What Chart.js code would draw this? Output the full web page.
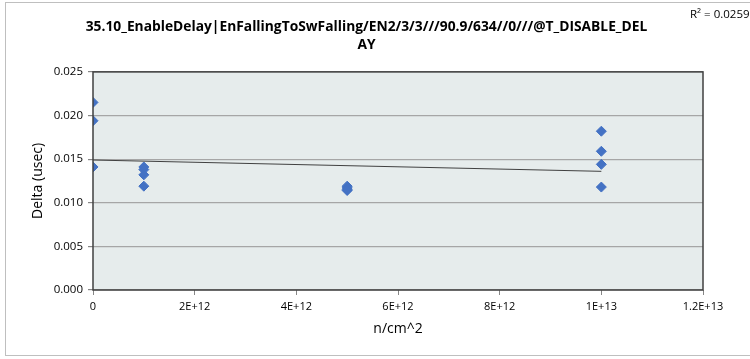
<!DOCTYPE html>
<html>
<head>
<meta charset="utf-8">
<script src="https://cdn.jsdelivr.net/npm/chart.js@4.4.1/dist/chart.umd.min.js"></script>
<style>
    body { margin: 0; background: #ffffff; }
    #wrap { position: relative; width: 750px; height: 359px; }
</style>
</head>
<body>
<div id="wrap"><canvas id="deltaChart" width="750" height="359"></canvas></div>
<script>
// Datos
const fluence = [0, 0, 0, 1e12, 1e12, 1e12, 1e12, 5e12, 5e12, 5e12, 5e12, 1e13, 1e13, 1e13, 1e13];
const delta = [0.0215, 0.0194, 0.0141, 0.0141, 0.0138, 0.0132, 0.0119, 0.0119, 0.0117, 0.0115, 0.0114, 0.0182, 0.0159, 0.0144, 0.0118];
const trendX = [0, 1e13];
const trendY = [0.0149, 0.0136];
const xTickLabels = ['0', '2E+12', '4E+12', '6E+12', '8E+12', '1E+13', '1.2E+13'];
const titleLines = ['35.10_EnableDelay|EnFallingToSwFalling/EN2/3/3///90.9/634//0///@T_DISABLE_DEL', 'AY'];
const rSquared = 'R² = 0.0259';

const fuente = "'Open Sans', 'DejaVu Sans', sans-serif";

// Fondo del area de trazado, borde y etiqueta R²
const decoracion = {
    id: 'decoracion',
    beforeDraw(chart) {
        const { ctx, chartArea: a } = chart;
        ctx.save();
        ctx.strokeStyle = '#bfbfbf';
        ctx.lineWidth = 1;
        ctx.strokeRect(5.5, 2.5, 750, 353);
        ctx.fillStyle = '#e6ecec';
        ctx.fillRect(a.left, a.top, a.right - a.left, a.bottom - a.top);
        ctx.restore();
    },
    afterDatasetsDraw(chart) {
        const { ctx, chartArea: a } = chart;
        ctx.save();
        ctx.strokeStyle = '#404040';
        ctx.lineWidth = 1.5;
        ctx.strokeRect(a.left, a.top, a.right - a.left, a.bottom - a.top);
        ctx.fillStyle = '#000000';
        ctx.font = '11.5px ' + fuente;
        ctx.textAlign = 'left';
        ctx.textBaseline = 'middle';
        ctx.fillText(rSquared, 690, 15);
        ctx.restore();
    }
};

new Chart(document.getElementById('deltaChart'), {
    type: 'scatter',
    data: {
        datasets: [
            {
                label: 'Delta',
                data: fluence.map((x, i) => ({ x: x, y: delta[i] })),
                pointStyle: 'rectRot',
                pointRadius: 5,
                pointHoverRadius: 5,
                backgroundColor: '#4472c4',
                borderColor: '#4472c4',
                borderWidth: 1,
                order: 1
            },
            {
                label: 'Tendencia',
                data: trendX.map((x, i) => ({ x: x, y: trendY[i] })),
                showLine: true,
                pointRadius: 0,
                borderColor: '#404040',
                borderWidth: 1,
                order: 2
            }
        ]
    },
    plugins: [decoracion],
    options: {
        responsive: false,
        animation: false,
        layout: { padding: { left: 30, right: 47, top: 6, bottom: 22 } },
        plugins: {
            legend: { display: false },
            tooltip: { enabled: false },
            title: {
                display: true,
                text: titleLines,
                color: '#000000',
                font: { family: fuente, size: 13.8, weight: 'bold', lineHeight: 1.3 },
                padding: { top: 12, bottom: 18 }
            }
        },
        scales: {
            x: {
                type: 'linear',
                min: 0,
                max: 1.2e13,
                border: { display: false },
                grid: { drawOnChartArea: false, drawTicks: true, tickLength: 5, color: '#868686' },
                ticks: {
                    stepSize: 2e12,
                    color: '#000000',
                    font: { family: fuente, size: 11 },
                    padding: 5,
                    maxRotation: 0,
                    callback: function (value, index) { return xTickLabels[index]; }
                },
                title: {
                    display: true,
                    text: 'n/cm^2',
                    color: '#000000',
                    font: { family: fuente, size: 14 },
                    padding: { top: 2, bottom: 0 }
                }
            },
            y: {
                min: 0,
                max: 0.025,
                border: { display: false },
                grid: { color: '#a6a6a6', lineWidth: 1.2, tickLength: 5, tickColor: '#868686' },
                ticks: {
                    stepSize: 0.005,
                    color: '#000000',
                    font: { family: fuente, size: 11.5 },
                    padding: 5,
                    callback: function (value) { return value.toFixed(3); }
                },
                title: {
                    display: true,
                    text: 'Delta (usec)',
                    color: '#000000',
                    font: { family: fuente, size: 14 },
                    padding: { top: 0, bottom: 4 }
                },
                afterFit: function (scale) { scale.width = 63; }
            }
        }
    }
});
</script>
</body>
</html>
